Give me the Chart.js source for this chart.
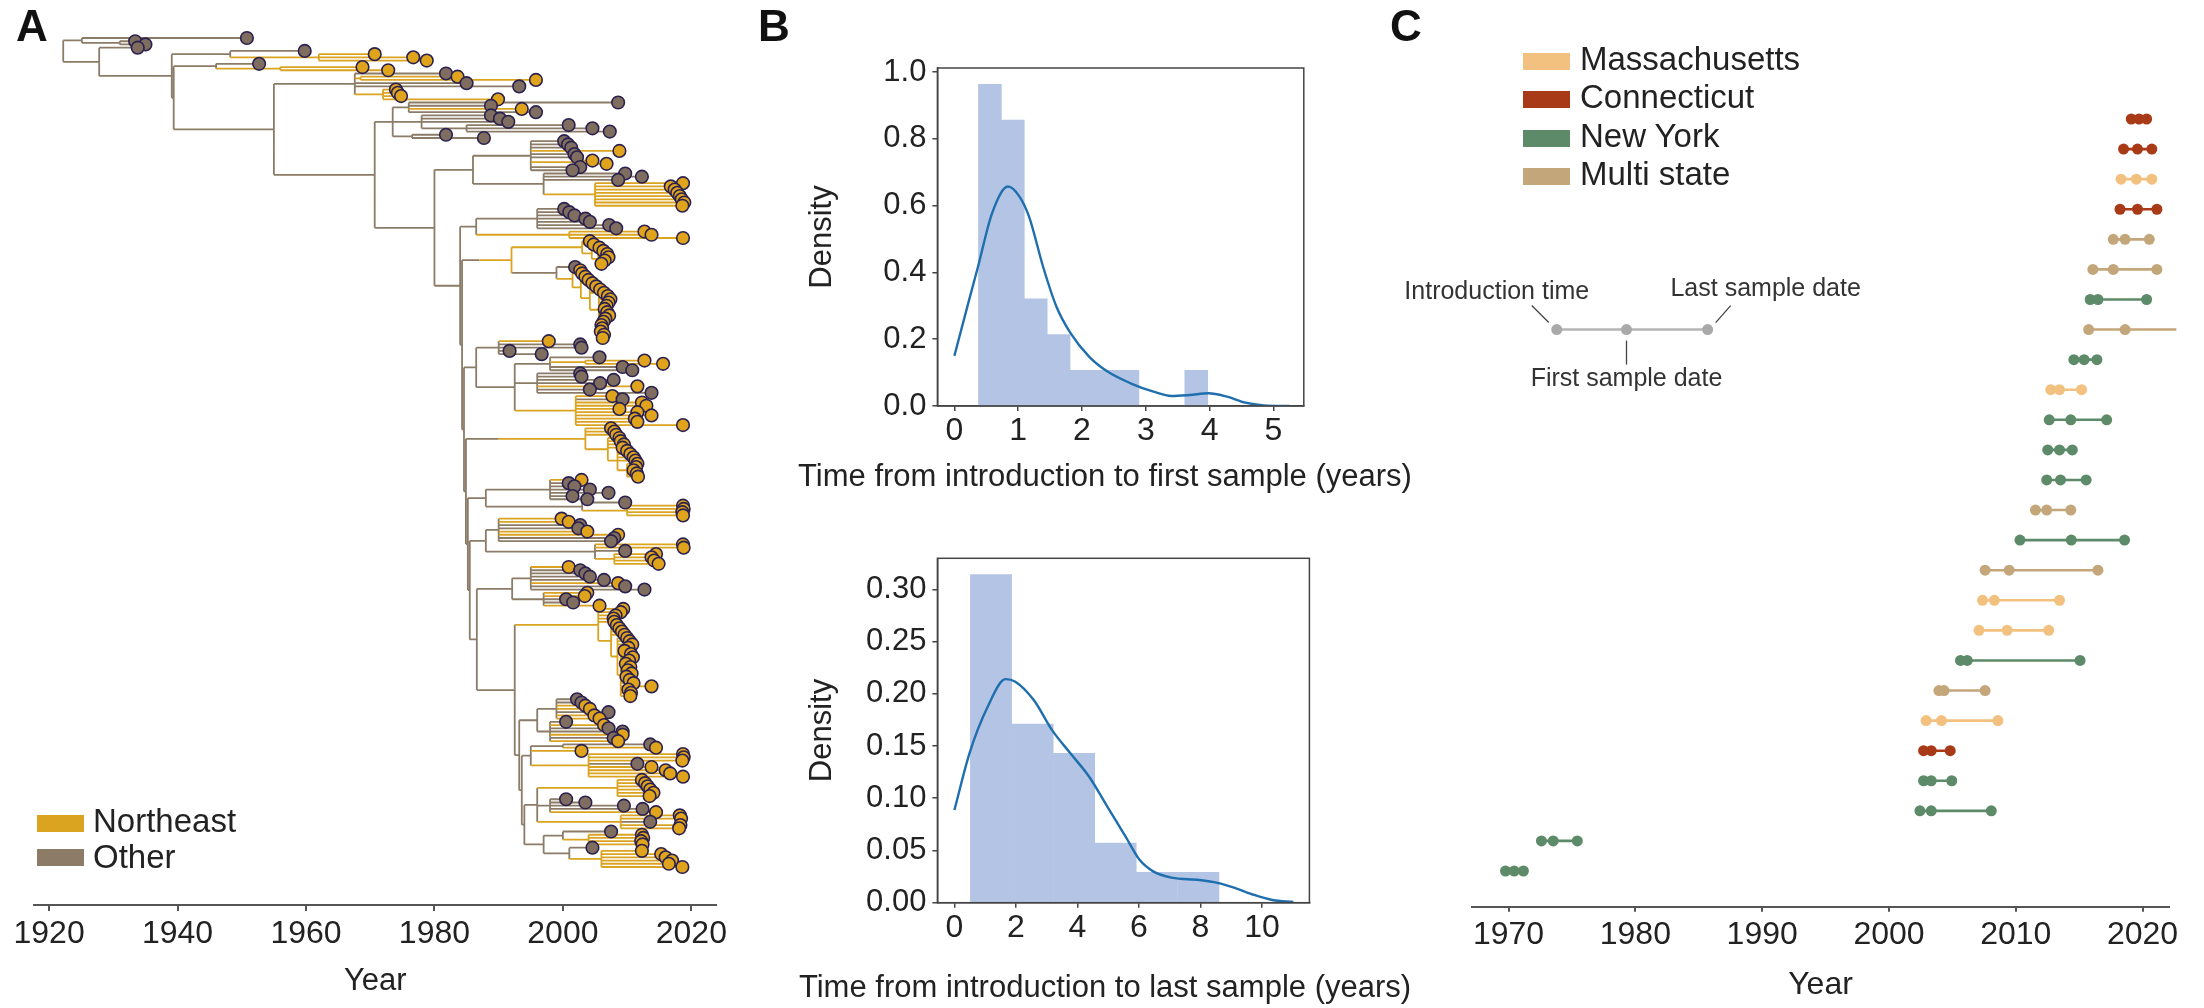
<!DOCTYPE html>
<html>
<head>
<meta charset="utf-8">
<title>Introductions into the Northeast</title>
<script src="https://cdn.jsdelivr.net/npm/chart.js@4.4.1/dist/chart.umd.min.js"></script>
<style>
  html, body { margin: 0; background: #fff; }
  body { position: relative; width: 2204px; height: 1008px; overflow: hidden;
         font-family: "Liberation Sans", Arial, Helvetica, sans-serif; color: #222; }
  canvas { position: absolute; }
  .panel { position: absolute; font-weight: bold; font-size: 44px; line-height: 44px; color: #111; }
  .swatch { position: absolute; width: 47px; height: 17px; }
  .legtext { position: absolute; font-size: 33px; line-height: 33px; white-space: nowrap; }
</style>
</head>
<body>
<canvas id="tree" width="740" height="1008" style="left:0;top:0"></canvas>
<canvas id="first" width="700" height="500" style="left:760px;top:0"></canvas>
<canvas id="last" width="700" height="508" style="left:760px;top:500px"></canvas>
<canvas id="dumbbell" width="824" height="1008" style="left:1380px;top:0"></canvas>
<div class="panel" style="left:16px;top:4px">A</div>
<div class="panel" style="left:758px;top:4px">B</div>
<div class="panel" style="left:1390px;top:4px">C</div>
<div id="legendA"></div>
<div id="legendC"></div>
<script>
// ---------- panel A: time-scaled tree, nodes are [date, region, ...children] ----------
// region: 'n' = Northeast, 'o' = other
const EARLY_TOP = [1925.1, 'o', [1950.8, 'o'], [1931.0, 'o', [1933.4, 'o'], [1935.0, 'o']]];
const EARLY_MID = [1948.2, 'o', [1959.8, 'o'], [1962.0, 'n', [1970.7, 'n'], [1976.7, 'n'], [1978.8, 'n']]];
const EARLY_LOW = [1946.0, 'o', [1952.7, 'o'], [1956.0, 'n', [1968.8, 'n'], [1972.8, 'n']]];
const CLADE_S2 = [1967.6, 'o', [1981.8, 'o'], [1968.5, 'n', [1983.6, 'n'], [1995.8, 'n']], [1985.0, 'o'], [1993.2, 'o'],
  [1972.0, 'n', [1974.0, 'n'], [1974.3, 'n'], [1974.8, 'n'], [1989.9, 'n']]];
const CLADE_S3 = [1973.5, 'o',
  [1976.0, 'o', [2008.6, 'o'], [1988.8, 'o'], [1980.0, 'n', [1993.6, 'n']], [1995.8, 'o']],
  [1978.0, 'o', [1988.8, 'o'], [1990.2, 'o'], [1991.5, 'o'], [1985.0, 'o', [2000.9, 'o'], [2004.6, 'o'], [2007.3, 'o']]],
  [1976.5, 'o', [1981.8, 'o'], [1987.7, 'o']]];
const CLADE_1 = [1986.0, 'o',
  [1995.0, 'o', [2000.2, 'o'], [2000.8, 'o'], [2001.3, 'o'], [2008.8, 'n'], [2001.8, 'o'], [2002.2, 'o'],
    [2003.0, 'n', [2004.6, 'n'], [2006.8, 'n']], [2002.7, 'o'], [2001.5, 'o']],
  [1997.0, 'o', [2009.7, 'o'], [2012.3, 'o'], [2008.6, 'o'],
    [2005.0, 'n', [2018.7, 'n'], [2016.8, 'n'], [2017.4, 'n'], [2017.8, 'n'], [2018.2, 'n'], [2018.5, 'n'], [2018.9, 'n'], [2018.6, 'n']]]];
const CLADE_2 = [1986.5, 'o',
  [1996.0, 'o', [2000.2, 'o'], [2001.0, 'o'], [2001.8, 'o'], [2003.5, 'o'], [2004.2, 'o'], [2007.2, 'o'], [2008.3, 'o']],
  [2001.0, 'n', [2012.7, 'n'], [2013.8, 'n'], [2018.7, 'n']]];
const CLADE_3 = [1987.0, 'o',
  [1992.0, 'n',
    [2003.0, 'n', [2004.2, 'n'], [2004.8, 'n'],
      [2004.5, 'n', [2005.7, 'n'], [2006.3, 'n'],
        [2005.5, 'n', [2006.9, 'n'], [2007.1, 'n'], [2006.5, 'n'], [2006.0, 'n']]]],
    [1999.0, 'o', [2001.9, 'o'],
      [2001.5, 'n', [2002.7, 'n'], [2003.0, 'n'],
        [2002.8, 'n', [2003.5, 'n'], [2004.0, 'n'], [2004.6, 'n'],
          [2004.2, 'n', [2005.2, 'n'], [2005.8, 'n'], [2006.4, 'n'],
            [2005.6, 'n', [2007.0, 'n'], [2007.4, 'n'], [2007.1, 'n'], [2006.8, 'n'],
              [2005.8, 'n', [2006.5, 'n'], [2006.9, 'n'], [2007.2, 'n'], [2006.6, 'n'], [2006.3, 'n'],
                [2006.0, 'n'], [2006.1, 'n'], [2005.9, 'n'], [2006.4, 'n'], [2006.2, 'n']]]]]]]]];
const CLADE_4 = [1986.5, 'o',
  [1990.0, 'o', [1997.8, 'n'], [2002.7, 'o'], [2002.9, 'o'], [1991.7, 'o'], [1996.7, 'o']],
  [1992.5, 'o',
    [1998.0, 'o', [2005.7, 'o'], [2003.5, 'n', [2012.7, 'n'], [2015.6, 'n']], [2009.3, 'o'], [2010.8, 'o']],
    [1996.0, 'o', [2002.7, 'o'], [2002.9, 'o'], [2007.9, 'o'], [2005.8, 'o'], [2011.6, 'n'], [2004.2, 'o'], [2013.8, 'o']],
    [2002.0, 'n', [2007.7, 'n'], [2009.3, 'o'], [2012.3, 'n'], [2013.0, 'n'], [2008.8, 'n'], [2011.6, 'n'],
      [2013.8, 'n'], [2011.2, 'n'], [2011.6, 'n'], [2018.7, 'n']]]];
const CLADE_5 = [1990.0, 'o',
  [2003.5, 'n', [2007.5, 'n'], [2008.0, 'n'], [2008.3, 'n'],
    [2007.0, 'n', [2008.8, 'n'], [2009.0, 'n'], [2009.5, 'n'], [2009.3, 'n'],
      [2008.5, 'n', [2010.0, 'n'], [2010.5, 'n'], [2011.0, 'n'], [2011.3, 'n'],
        [2010.0, 'n', [2011.6, 'n'], [2011.4, 'n'], [2011.0, 'n'], [2011.5, 'n'], [2011.7, 'n']]]]]];
const CLADE_6 = [1988.0, 'o',
  [1998.0, 'o', [2002.9, 'n'], [2000.9, 'o'], [2001.8, 'o'], [2004.2, 'o'], [2007.1, 'o'], [2001.5, 'o'], [2003.8, 'o']],
  [2003.0, 'o', [2009.7, 'o'], [2010.0, 'n', [2018.7, 'n'], [2018.8, 'n'], [2018.6, 'n'], [2018.7, 'n']]]];
const CLADE_7 = [1988.0, 'o',
  [1990.0, 'o', [1999.8, 'n'], [2000.9, 'n'], [2002.7, 'o'], [2002.4, 'o'], [2003.8, 'n'], [2008.6, 'n'], [2008.0, 'o'], [2007.5, 'o']],
  [2005.0, 'o', [2018.7, 'n'], [2018.8, 'n'], [2009.7, 'o'], [2008.0, 'n', [2014.5, 'n'], [2013.8, 'n'], [2014.2, 'n'], [2014.9, 'n']]]];
const CLADE_8 = [1992.1, 'o',
  [1995.0, 'o', [2000.9, 'n'], [2002.7, 'o'], [2003.5, 'o'], [2004.2, 'o'], [2006.4, 'o'], [2008.6, 'n'], [2009.7, 'o'], [2012.7, 'o']],
  [1997.0, 'o', [2003.8, 'n'], [2003.4, 'n'], [2000.5, 'o'], [2001.6, 'o'], [2005.7, 'n']]];
const CLADE_9 = [1998.3, 'n',
  [2005.5, 'n', [2009.4, 'n'], [2009.0, 'n'], [2008.2, 'n'], [2007.9, 'n'], [2008.0, 'n'],
    [2007.5, 'n', [2008.4, 'n'], [2008.8, 'n'], [2009.2, 'n'], [2009.6, 'n'],
      [2008.5, 'n', [2010.0, 'n'], [2010.4, 'n'], [2010.8, 'n'], [2010.2, 'n'], [2009.6, 'n'],
        [2009.0, 'n', [2010.6, 'n'], [2010.9, 'n'], [2010.3, 'n'], [2009.8, 'n'], [2010.5, 'n'], [2010.1, 'n'], [2010.7, 'n'],
          [2009.9, 'n'], [2010.4, 'n'], [2011.0, 'n'], [2013.8, 'n'], [2010.2, 'n'], [2010.6, 'n'], [2010.5, 'n']]]]]];
const CLADE_10 = [1996.0, 'o',
  [1999.0, 'o', [2002.2, 'o'], [2002.9, 'o'], [2003.5, 'n'], [2004.2, 'n'], [2007.1, 'o'], [2004.9, 'n'], [2005.7, 'n']],
  [1998.0, 'o', [2000.5, 'o'], [2006.4, 'n'], [2007.1, 'o'], [2009.3, 'o'], [2009.3, 'n'], [2007.9, 'o'], [2008.6, 'n']]];
const CLADE_11 = [1995.0, 'o',
  [2000.0, 'o', [2013.6, 'o'], [2014.5, 'n']],
  [2002.9, 'n'],
  [2004.0, 'n', [2018.7, 'n'], [2018.8, 'n'], [2018.6, 'n'], [2011.6, 'o'], [2013.8, 'n'], [2016.0, 'n'], [2016.7, 'n'], [2018.7, 'n']]];
const CLADE_12 = [1996.0, 'o',
  [2008.5, 'n', [2012.3, 'n'], [2012.8, 'n'], [2013.2, 'n'], [2013.6, 'n'], [2014.1, 'n'], [2013.5, 'n']],
  [1998.0, 'o', [2000.5, 'o'], [2003.5, 'o'], [2009.5, 'o'], [2012.4, 'o'], [2014.5, 'n']],
  [2009.0, 'n', [2018.2, 'n'], [2018.4, 'n'], [2013.6, 'o'], [2018.3, 'n'], [2018.1, 'n']]];
const CLADE_13 = [1997.0, 'o',
  [2000.0, 'o', [2007.5, 'o'], [2004.0, 'n', [2012.3, 'n'], [2012.5, 'n'], [2012.2, 'n'], [2012.4, 'n']]],
  [2001.0, 'o', [2004.6, 'o'], [2006.0, 'n', [2012.3, 'n'], [2015.3, 'n'], [2016.0, 'n'], [2017.0, 'n'], [2016.5, 'n'], [2018.6, 'n']]]];

// the long backbone: each date is a node holding one clade and the rest of the backbone
const BACKBONE_DATES = [1984.0, 1984.3, 1984.6, 1984.9, 1985.2, 1985.5, 1986.6, 1992.5, 1993.2, 1993.6, 1994.0];
const BACKBONE_CLADES = [CLADE_2, CLADE_3, CLADE_4, CLADE_5, CLADE_6, CLADE_7, CLADE_8, CLADE_9, CLADE_10, CLADE_11, CLADE_12, CLADE_13];
const BACKBONE = BACKBONE_DATES.reduceRight((below, date, i) => [date, 'o', BACKBONE_CLADES[i], below],
  BACKBONE_CLADES[BACKBONE_CLADES.length - 1]);

const TREE = [1922.2, 'o', EARLY_TOP,
  [1927.8, 'o', [1933.8, 'o'],
    [1939.1, 'o', EARLY_MID,
      [1939.4, 'o', EARLY_LOW,
        [1955.0, 'o', CLADE_S2,
          [1970.7, 'o', CLADE_S3,
            [1980.0, 'o', CLADE_1, BACKBONE]]]]]]];
const TREE_TICKS = [1920, 1940, 1960, 1980, 2000, 2020];

// ---------- panel B: histograms with density curves ----------
const FIRST_BIN_CENTERS = [0.557, 0.916, 1.275, 1.634, 1.994, 2.353, 2.712, 3.072, 3.431, 3.790];
const FIRST_BIN_DENSITY = [0.963, 0.856, 0.321, 0.214, 0.107, 0.107, 0.107, 0, 0, 0.107];
const FIRST_KDE_X = [0.0, 0.23, 0.37, 0.59, 0.84, 1.02, 1.17, 1.39, 1.60, 1.82, 2.11, 2.40, 2.76, 3.12, 3.40, 3.69, 3.98, 4.27, 4.56, 4.85, 5.25];
const FIRST_KDE_Y = [0.150, 0.317, 0.417, 0.577, 0.657, 0.627, 0.567, 0.417, 0.297, 0.218, 0.148, 0.103, 0.068, 0.043, 0.030, 0.033, 0.038, 0.028, 0.010, 0.002, 0.0];
const FIRST_TICKS_X = [0, 1, 2, 3, 4, 5];
const FIRST_TICKS_Y = [0, 0.2, 0.4, 0.6, 0.8, 1.0];

const LAST_BIN_CENTERS = [1.19, 2.54, 3.89, 5.24, 6.58, 7.93];
const LAST_BIN_DENSITY = [0.314, 0.171, 0.143, 0.057, 0.029, 0.029];
const LAST_KDE_X = [0.0, 0.49, 1.09, 1.66, 1.98, 2.58, 3.18, 3.77, 4.37, 4.97, 5.57, 6.02, 6.46, 7.06, 7.96, 8.55, 9.15, 9.75, 10.34, 11.02];
const LAST_KDE_Y = [0.0887, 0.143, 0.188, 0.214, 0.2116, 0.194, 0.165, 0.143, 0.121, 0.092, 0.063, 0.041, 0.030, 0.024, 0.0217, 0.019, 0.0138, 0.0074, 0.0026, 0.0007];
const LAST_TICKS_X = [0, 2, 4, 6, 8, 10];
const LAST_TICKS_Y = [0, 0.05, 0.10, 0.15, 0.20, 0.25, 0.30];

// ---------- panel C: one row per introduction, top to bottom ----------
const ROW_STATE = ['CT', 'CT', 'MA', 'CT', 'Multi', 'Multi', 'NY', 'Multi', 'NY', 'MA', 'NY', 'NY', 'NY',
  'Multi', 'NY', 'Multi', 'MA', 'MA', 'NY', 'Multi', 'MA', 'CT', 'NY', 'NY', 'NY', 'NY'];
const INTRO = [2019.11, 2018.50, 2018.30, 2018.22, 2017.69, 2016.08, 2015.87, 2015.75, 2014.58, 2012.76, 2012.64, 2012.52, 2012.44,
  2011.55, 2010.33, 2007.58, 2007.38, 2007.10, 2005.64, 2003.94, 2002.93, 2002.73, 2002.73, 2002.44, 1972.59, 1969.76];
const FIRST_SAMPLE = [2019.72, 2019.60, 2019.51, 2019.60, 2018.62, 2017.69, 2016.48, 2018.62, 2015.39, 2013.45, 2014.34, 2013.45, 2013.53,
  2012.44, 2014.38, 2009.48, 2008.31, 2009.32, 2006.17, 2004.34, 2004.14, 2003.33, 2003.33, 2003.33, 1973.52, 1970.44];
const LAST_SAMPLE = [2020.32, 2020.73, 2020.73, 2021.13, 2020.53, 2021.13, 2020.32, 2022.67, 2016.40, 2015.19, 2017.17, 2014.46, 2015.55,
  2014.34, 2018.58, 2016.48, 2013.45, 2012.60, 2015.07, 2007.58, 2008.59, 2004.83, 2004.95, 2008.07, 1975.42, 1971.17];
const STATE_KEYS = ['MA', 'CT', 'NY', 'Multi'];
const STATE_LABELS = ['Massachusetts', 'Connecticut', 'New York', 'Multi state'];
const STATE_COLORS = ['#f3c17f', '#a93a17', '#5d8b69', '#c4a67b'];
const KEY_DATES = [1973.8, 1979.3, 1985.7];
const KEY_ROW = 18;
const KEY_LABELS = ['Introduction time', 'First sample date', 'Last sample date'];
const C_TICKS = [1970, 1980, 1990, 2000, 2010, 2020];

const REGION_LABELS = ['Northeast', 'Other'];
const REGION_LINE = { n: '#daa420', o: '#8b7b67' };
const REGION_DOT = { n: '#e0a41c', o: '#7f6e5f' };

Chart.defaults.font.family = '"Liberation Sans", Arial, Helvetica, sans-serif';
Chart.defaults.color = '#222';
Chart.defaults.animation = false;
Chart.defaults.plugins.legend.display = false;
Chart.defaults.plugins.tooltip.enabled = false;

const fixedTicks = values => scale => { scale.ticks = values.map(value => ({ value })); };

// ---- lay the tree out: tips get consecutive rows, inner nodes sit midway between first and last child
const tipPoints = [], tipColors = [];
const branchPts = { n: [], o: [] };
function walk(node, parentDate) {
  const [date, region, ...kids] = node;
  let y;
  if (kids.length === 0) {
    y = tipPoints.length;
    tipPoints.push({ x: date, y });
    tipColors.push(REGION_DOT[region]);
  } else {
    const ys = kids.map(k => walk(k, date));
    const y0 = ys[0], y1 = ys[ys.length - 1];
    y = (y0 + y1) / 2;
    if (y1 > y0) branchPts[region].push({ x: date, y: y0 }, { x: date, y: y1 }, { x: date, y: null });
  }
  if (parentDate !== null) branchPts[region].push({ x: parentDate, y }, { x: date, y }, { x: date, y: null });
  return y;
}
walk(TREE, null);
const lastRow = tipPoints.length - 1;
const rowPx = 829 / lastRow;

new Chart(document.getElementById('tree'), {
  type: 'scatter',
  data: {
    datasets: [
      { label: 'tips', data: tipPoints, pointRadius: 6.3, pointBackgroundColor: tipColors,
        pointBorderColor: '#2b2150', pointBorderWidth: 1.6, clip: false },
      { label: 'Northeast', data: branchPts.n, showLine: true, spanGaps: false, pointRadius: 0,
        borderColor: REGION_LINE.n, borderWidth: 1.8, clip: false },
      { label: 'Other', data: branchPts.o, showLine: true, spanGaps: false, pointRadius: 0,
        borderColor: REGION_LINE.o, borderWidth: 1.8, clip: false }
    ]
  },
  options: {
    responsive: false,
    layout: { padding: { left: 34, right: 23.6, top: 30, bottom: 0 } },
    scales: {
      x: {
        type: 'linear', min: 1917.65, max: 2023.9,
        afterBuildTicks: fixedTicks(TREE_TICKS),
        afterFit: s => { s.height = 103; },
        ticks: { font: { size: 32 }, padding: 4, color: '#222', callback: v => String(v) },
        grid: { drawOnChartArea: false, tickLength: 6, color: '#555', lineWidth: 2 },
        border: { color: '#555', width: 2 },
        title: { display: true, text: 'Year', font: { size: 31 }, color: '#222', padding: { top: 0, bottom: 8 } }
      },
      y: { display: false, reverse: true, min: -8 / rowPx, max: lastRow + 38 / rowPx }
    }
  }
});

// ---- panel B
const frameBox = {
  id: 'frameBox',
  afterDraw(chart) {
    const { ctx, chartArea: a } = chart;
    ctx.save();
    ctx.strokeStyle = '#444';
    ctx.lineWidth = 1.5;
    ctx.strokeRect(a.left, a.top, a.right - a.left, a.bottom - a.top);
    // x-axis title, drawn at full width (it is wider than the plot box)
    const o = chart.options.plugins.frameBox;
    ctx.fillStyle = '#222';
    ctx.font = '31px "Liberation Sans", Arial, sans-serif';
    ctx.textAlign = 'center';
    ctx.textBaseline = 'middle';
    ctx.fillText(o.title, o.titleX, o.titleY);
    ctx.restore();
  }
};

function densityChart(id, o) {
  return new Chart(document.getElementById(id), {
    type: 'bar',
    data: {
      datasets: [
        { type: 'line', data: o.kdeX.map((x, i) => ({ x, y: o.kdeY[i] })), borderColor: '#1f6fae', borderWidth: 2.4,
          pointRadius: 0, cubicInterpolationMode: 'monotone', fill: false },
        { type: 'bar', data: o.centers.map((x, i) => ({ x, y: o.density[i] })), backgroundColor: '#b3c4e4',
          borderWidth: 0, barPercentage: 1, categoryPercentage: 1 }
      ]
    },
    options: {
      responsive: false,
      layout: { padding: o.padding },
      plugins: { frameBox: { title: o.title, titleX: 345, titleY: o.titleY } },
      scales: {
        x: {
          type: 'linear', min: o.xMin, max: o.xMax, offset: false,
          afterBuildTicks: fixedTicks(o.ticksX),
          afterFit: s => { s.height = o.xHeight; },
          ticks: { font: { size: 32 }, padding: 1, color: '#222', callback: v => String(v) },
          grid: { offset: false, drawOnChartArea: false, tickLength: 5, color: '#444', lineWidth: 1.5 },
          border: { color: '#444', width: 1.5 }
        },
        y: {
          min: 0, max: o.yMax,
          afterBuildTicks: fixedTicks(o.ticksY),
          afterFit: s => { s.width = 137.4; },
          ticks: { font: { size: 31 }, padding: 6, color: '#222', callback: v => v.toFixed(o.digits) },
          grid: { drawOnChartArea: false, tickLength: 5, color: '#444', lineWidth: 1.5 },
          border: { color: '#444', width: 1.5 },
          title: { display: true, text: 'Density', font: { size: 31 }, color: '#222', padding: { top: 4, bottom: 0 } }
        }
      }
    },
    plugins: [frameBox]
  });
}

densityChart('first', {
  centers: FIRST_BIN_CENTERS, density: FIRST_BIN_DENSITY, kdeX: FIRST_KDE_X, kdeY: FIRST_KDE_Y,
  ticksX: FIRST_TICKS_X, ticksY: FIRST_TICKS_Y, digits: 1, xMin: -0.266, xMax: 5.475, yMax: 1.012,
  padding: { left: 40, right: 156.2, top: 68, bottom: 0 }, xHeight: 94, titleY: 477,
  title: 'Time from introduction to first sample (years)'
});
densityChart('last', {
  centers: LAST_BIN_CENTERS, density: LAST_BIN_DENSITY, kdeX: LAST_KDE_X, kdeY: LAST_KDE_Y,
  ticksX: LAST_TICKS_X, ticksY: LAST_TICKS_Y, digits: 2, xMin: -0.553, xMax: 11.54, yMax: 0.3297,
  padding: { left: 40, right: 150.6, top: 58.3, bottom: 0 }, xHeight: 105.3, titleY: 488,
  title: 'Time from introduction to last sample (years)'
});

// ---- panel C
const keyNotes = {
  id: 'keyNotes',
  afterDatasetsDraw(chart) {
    const [intro, first, last] = chart.getDatasetMeta(0).data.slice(0, 3);
    const ctx = chart.ctx;
    ctx.save();
    ctx.strokeStyle = '#444';
    ctx.lineWidth = 1.3;
    ctx.beginPath();
    ctx.moveTo(intro.x - 25, intro.y - 24); ctx.lineTo(intro.x - 8, intro.y - 7);
    ctx.moveTo(last.x + 23, last.y - 24); ctx.lineTo(last.x + 8, last.y - 7);
    ctx.moveTo(first.x, first.y + 11); ctx.lineTo(first.x, first.y + 35);
    ctx.stroke();
    ctx.fillStyle = '#333';
    ctx.font = '25px "Liberation Sans", Arial, sans-serif';
    ctx.textAlign = 'center';
    ctx.textBaseline = 'alphabetic';
    ctx.fillText(KEY_LABELS[0], intro.x - 60, intro.y - 31);
    ctx.fillText(KEY_LABELS[1], first.x, first.y + 56);
    ctx.fillText(KEY_LABELS[2], last.x + 58, last.y - 34);
    ctx.restore();
  }
};

const rowCount = ROW_STATE.length;
const stateSets = STATE_KEYS.map((key, s) => {
  const pts = [];
  ROW_STATE.forEach((st, i) => {
    if (st !== key) return;
    const y = rowCount - 1 - i;
    pts.push({ x: INTRO[i], y }, { x: FIRST_SAMPLE[i], y }, { x: LAST_SAMPLE[i], y }, { x: LAST_SAMPLE[i], y: null });
  });
  return { label: STATE_LABELS[s], data: pts, showLine: true, spanGaps: false, borderColor: STATE_COLORS[s],
    borderWidth: 2.6, pointRadius: 5.5, pointBorderWidth: 0, pointBackgroundColor: STATE_COLORS[s], clip: false };
});

new Chart(document.getElementById('dumbbell'), {
  type: 'scatter',
  data: {
    datasets: [
      { label: 'key', data: KEY_DATES.map(x => ({ x, y: KEY_ROW })), showLine: true, borderColor: '#b4b4b4',
        borderWidth: 2.6, pointRadius: 5.5, pointBorderWidth: 0, pointBackgroundColor: '#a9a9a9', clip: false },
      ...stateSets
    ]
  },
  options: {
    responsive: false,
    layout: { padding: { left: 91.8, right: 34.8, top: 100, bottom: 0 } },
    scales: {
      x: {
        type: 'linear', min: 1967.1, max: 2022.1,
        afterBuildTicks: fixedTicks(C_TICKS),
        afterFit: s => { s.height = 101.3; },
        ticks: { font: { size: 32 }, padding: 4, color: '#222', callback: v => String(v) },
        grid: { drawOnChartArea: false, tickLength: 5, color: '#555', lineWidth: 2 },
        border: { color: '#555', width: 2 },
        title: { display: true, text: 'Year', font: { size: 32 }, color: '#222', padding: { top: 0, bottom: 4 } }
      },
      y: { display: false, min: -1.187, max: 25.632 }
    }
  },
  plugins: [keyNotes]
});

// ---- legends
const legC = document.getElementById('legendC');
STATE_LABELS.forEach((name, i) => {
  legC.insertAdjacentHTML('beforeend',
    `<div class="swatch" style="left:1523px;top:${53 + i * 38.3}px;background:${STATE_COLORS[i]}"></div>` +
    `<div class="legtext" style="left:1580px;top:${42 + i * 38.3}px">${name}</div>`);
});
const legA = document.getElementById('legendA');
['n', 'o'].forEach((r, i) => {
  legA.insertAdjacentHTML('beforeend',
    `<div class="swatch" style="left:37px;top:${815 + i * 34}px;background:${REGION_LINE[r]}"></div>` +
    `<div class="legtext" style="left:93px;top:${804 + i * 36}px">${REGION_LABELS[i]}</div>`);
});
</script>
</body>
</html>
